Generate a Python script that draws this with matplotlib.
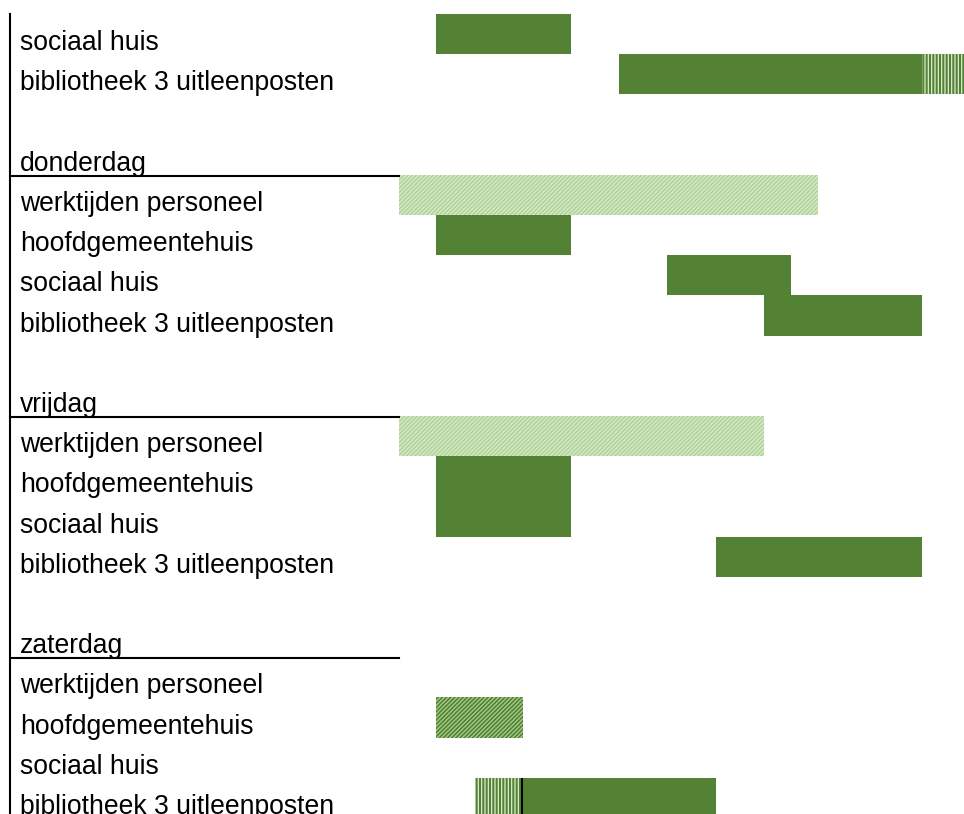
import numpy as np
import matplotlib
matplotlib.use('Agg')
import matplotlib.pyplot as plt

# Constants
FONT = 'Liberation Sans'
FONTSIZE = 19.1
FIG_W, FIG_H, DPI = 9.64, 8.14, 100

DARK = '#548235'
LIGHT = '#a9d18e'
PALE = '#d5e8c8'

# row labels, top to bottom ('' = blank spacer row)
row_labels = ['sociaal huis', 'bibliotheek 3 uitleenposten', '',
              'donderdag', 'werktijden personeel', 'hoofdgemeentehuis',
              'sociaal huis', 'bibliotheek 3 uitleenposten', '',
              'vrijdag', 'werktijden personeel', 'hoofdgemeentehuis',
              'sociaal huis', 'bibliotheek 3 uitleenposten', '',
              'zaterdag', 'werktijden personeel', 'hoofdgemeentehuis',
              'sociaal huis', 'bibliotheek 3 uitleenposten']
day_rows = [3, 9, 15]

# bars: row index, start hour, end hour, style
bar_rows  = [0, 1, 1, 4, 5, 6, 7, 10, 11, 12, 13, 17, 19, 19]
bar_start = [9.0, 13.75, 21.6, 8.05, 9.0, 15.0, 17.5, 8.05, 9.0, 9.0, 16.25, 9.0, 10.0, 11.25]
bar_end   = [12.5, 21.6, 23.0, 18.9, 12.5, 18.2, 21.6, 17.5, 12.5, 12.5, 21.6, 11.25, 11.2, 16.25]
bar_style = ['solid', 'solid', 'vstripe', 'light', 'solid', 'solid', 'solid',
             'light', 'solid', 'solid', 'solid', 'darkhatch', 'vstripe', 'solid']

# black separators
sep_rows = [19]
sep_x = [11.22]

STYLES = {
    'solid':     dict(color=DARK, hatch=None, edgecolor=DARK),
    'light':     dict(color=PALE, hatch='////////', edgecolor=LIGHT),
    'darkhatch': dict(color=DARK, hatch='////////', edgecolor=LIGHT),
    'vstripe':   dict(color=DARK, hatch='|||||', edgecolor='#dcecd0'),
}

XMIN, XMAX = -2.304, 22.69
YTOP, YBOT = -0.848, 19.40


def main():
    plt.rcParams['hatch.linewidth'] = 0.9
    fig = plt.figure(figsize=[FIG_W, FIG_H], dpi=DPI)
    ax = fig.add_axes([0, 0, 1, 1])
    ax.set_xlim(XMIN, XMAX)
    ax.set_ylim(YBOT, YTOP)
    ax.axis('off')

    for r, s, e, st in zip(bar_rows, bar_start, bar_end, bar_style):
        sty = STYLES[st]
        ax.barh(r, e - s, left=s, height=1.0, color=sty['color'],
                hatch=sty['hatch'], edgecolor=sty['edgecolor'], linewidth=0, zorder=2)

    for r, x in zip(sep_rows, sep_x):
        ax.vlines(x, r - 0.5, r + 0.5, color='black', lw=1.5, zorder=3)

    # labels
    tr = ax.get_yaxis_transform()
    for i, lab in enumerate(row_labels):
        if lab:
            ax.text(20 / 964, i + 0.40, lab, transform=tr, fontsize=FONTSIZE,
                    family=FONT, va='baseline', ha='left', zorder=4)

    # left border and day separators
    ax.plot([10 / 964, 10 / 964], [-0.5, YBOT + 1], transform=tr, color='black',
            lw=1.5, clip_on=False, zorder=5)
    for d in day_rows:
        ax.plot([10 / 964, 399 / 964], [d + 0.52, d + 0.52], transform=tr,
                color='black', lw=1.5, zorder=5)

    plt.savefig('out.png', dpi=DPI)
    plt.close('all')


if __name__ == "__main__":
    main()
